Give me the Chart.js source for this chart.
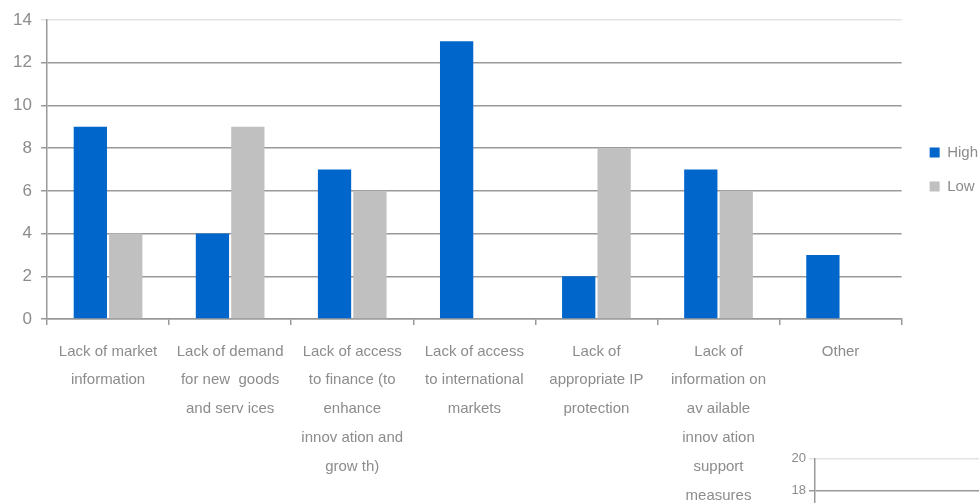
<!DOCTYPE html>
<html>
<head>
<meta charset="utf-8">
<script src="https://cdn.jsdelivr.net/npm/chart.js@4"></script>
<style>
  html, body { margin: 0; padding: 0; background: #fff; overflow: hidden; }
  #wrap { position: relative; width: 979px; height: 503px; }
  #main { position: absolute; left: 0; top: 0; }
  #sub { position: absolute; left: 770px; top: 448px; }
</style>
</head>
<body>
<div id="wrap">
  <canvas id="main" width="979" height="503"></canvas>
  <canvas id="sub" width="209" height="340"></canvas>
</div>
<script>
// data
var categories = [
  ['Lack of market', 'information'],
  ['Lack of demand', 'for new  goods', 'and serv ices'],
  ['Lack of access', 'to finance (to', 'enhance', 'innov ation and', 'grow th)'],
  ['Lack of access', 'to international', 'markets'],
  ['Lack of', 'appropriate IP', 'protection'],
  ['Lack of', 'information on', 'av ailable', 'innov ation', 'support', 'measures'],
  ['Other']
];
var highValues = [9, 4, 7, 13, 2, 7, 3];
var lowValues = [4, 9, 6, null, 8, 6, null];
var yMax = 14;
var yStep = 2;

// second chart, only its top corner is visible at the bottom right
var subMax = 20;
var subStep = 2;

var FONT = '"Liberation Sans", Arial, sans-serif';
var TXT = '#8c8c8c';
var GRID = '#999999';

function gridColor(ctx, top) {
  return ctx.tick && ctx.tick.value === top ? '#e3e3e3' : GRID;
}

// legend sits next to the plot area, not centred on the whole canvas
var legendShift = {
  id: 'legendShift',
  afterLayout: function (chart) {
    var lg = chart.legend;
    var dy = (chart.chartArea.top + chart.chartArea.bottom) / 2 - (lg.top + lg.bottom) / 2;
    lg.top += dy;
    lg.bottom += dy;
    lg.left += 9;
    lg.right += 9;
  }
};

Chart.defaults.font.family = FONT;
Chart.defaults.color = TXT;

new Chart(document.getElementById('main'), {
  type: 'bar',
  data: {
    labels: categories,
    datasets: [
      { label: 'High', data: highValues, backgroundColor: '#0066cc' },
      { label: 'Low', data: lowValues, backgroundColor: '#c0c0c0' }
    ]
  },
  plugins: [legendShift],
  options: {
    responsive: false,
    animation: false,
    devicePixelRatio: 1,
    categoryPercentage: 0.58,
    barPercentage: 0.94,
    layout: { padding: { top: 20, left: 0, right: 0, bottom: 0 } },
    plugins: {
      tooltip: { enabled: false },
      legend: {
        position: 'right',
        labels: {
          boxWidth: 10,
          boxHeight: 10,
          padding: 19,
          color: TXT,
          font: { size: 15 }
        }
      }
    },
    scales: {
      x: {
        grid: { drawOnChartArea: false, tickLength: 6, color: GRID, lineWidth: 1.5 },
        border: { color: GRID, width: 1.5 },
        ticks: {
          autoSkip: false, maxRotation: 0, padding: 12,
          color: TXT, font: { size: 15, lineHeight: 1.92 }
        },
        afterFit: function (s) { s.height = 184; }
      },
      y: {
        min: 0, max: yMax,
        grid: { color: function (c) { return gridColor(c, yMax); }, lineWidth: 1.5, tickLength: 6 },
        border: { color: GRID, width: 1.5 },
        ticks: { stepSize: yStep, padding: 9, color: TXT, font: { size: 17 } },
        afterFit: function (s) { s.width = 47; }
      }
    }
  }
});

new Chart(document.getElementById('sub'), {
  type: 'bar',
  data: { labels: [], datasets: [] },
  options: {
    responsive: false,
    animation: false,
    devicePixelRatio: 1,
    layout: { padding: { top: 10, left: 0, right: 0, bottom: 0 } },
    plugins: { legend: { display: false }, tooltip: { enabled: false } },
    scales: {
      x: { display: false },
      y: {
        min: 0, max: subMax,
        grid: { color: function (c) { return gridColor(c, subMax); }, lineWidth: 1.5, tickLength: 6 },
        border: { color: GRID, width: 1.5 },
        ticks: { stepSize: subStep, padding: 3, color: TXT, font: { size: 13 } },
        afterFit: function (s) { s.width = 45; }
      }
    }
  }
});
</script>
</body>
</html>
